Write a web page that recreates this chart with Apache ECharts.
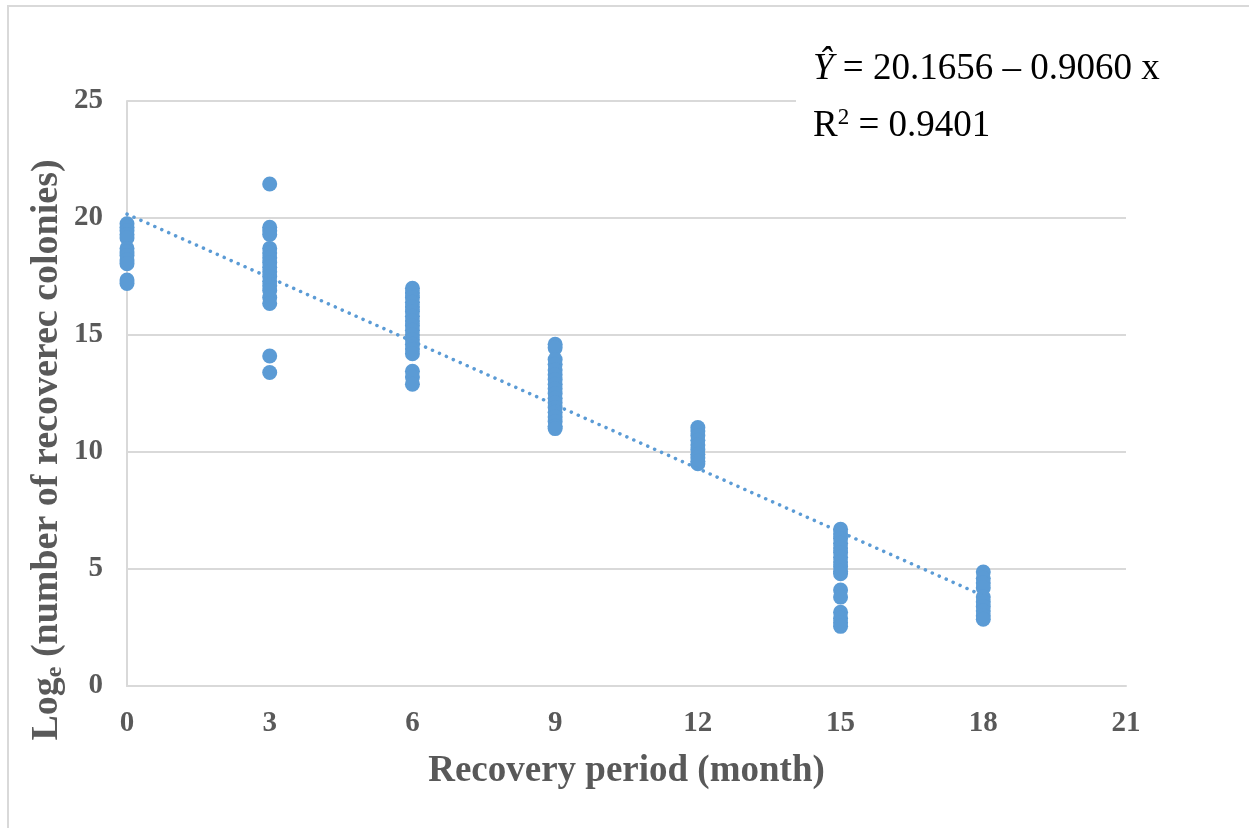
<!DOCTYPE html>
<html>
<head>
<meta charset="utf-8">
<script src="https://cdn.jsdelivr.net/npm/echarts@6/dist/echarts.min.js"></script>
<style>
  html, body { margin: 0; padding: 0; background: #fff; }
  #main { width: 1249px; height: 828px; }
</style>
</head>
<body>
<div id="main"></div>
<script>
// recovery period (months) for each column of points
const months = [0, 3, 6, 9, 12, 15, 18];

// log_e of recovered colonies, one list per month
const logColonies = [
  [19.75, 19.6, 19.45, 19.3, 19.15, 18.7, 18.55, 18.4, 18.2, 18.05, 17.35, 17.2],
  [21.45, 19.6, 19.45, 19.3, 18.7, 18.5, 18.3, 18.1, 17.9, 17.7, 17.5, 17.3, 17.1, 16.9, 16.6, 16.35, 14.1, 13.4],
  [17.0, 16.8, 16.6, 16.4, 16.2, 16.0, 15.8, 15.6, 15.4, 15.2, 15.0, 14.8, 14.6, 14.4, 14.2, 13.45, 13.2, 12.9],
  [14.6, 14.45, 13.95, 13.75, 13.5, 13.3, 13.1, 12.9, 12.7, 12.5, 12.3, 12.1, 11.9, 11.7, 11.5, 11.3, 11.1, 11.0],
  [11.05, 10.9, 10.7, 10.5, 10.3, 10.1, 9.9, 9.75, 9.6, 9.5],
  [6.7, 6.5, 6.3, 6.1, 5.9, 5.7, 5.5, 5.3, 5.1, 4.9, 4.8, 4.1, 3.8, 3.15, 2.9, 2.7, 2.55],
  [4.87, 4.6, 4.4, 4.2, 3.8, 3.6, 3.4, 3.2, 3.0, 2.85]
];

// fitted line: Y = a + b x
const intercept = 20.1656;
const slope = -0.9060;
const rSquared = 0.9401;

const xTicks = [0, 21, 3];   // min, max, interval
const yTicks = [0, 25, 5];

const points = [];
months.forEach((m, i) => {
  logColonies[i].forEach(v => points.push([m, v]));
});
const xFirst = months[0], xLast = months[months.length - 1];
const trend = [[xFirst, intercept + slope * xFirst], [xLast, intercept + slope * xLast]];

const serif = '"Liberation Serif", "Times New Roman", serif';
const grey = '#595959';
const blue = '#5b9bd5';

const chart = echarts.init(document.getElementById('main'));
chart.setOption({
  animation: false,
  backgroundColor: '#fff',
  grid: { left: 127, right: 123, top: 101, bottom: 142 },
  xAxis: {
    type: 'value',
    min: xTicks[0], max: xTicks[1], interval: xTicks[2],
    name: 'Recovery period (month)',
    nameLocation: 'middle',
    nameGap: 67,
    nameTextStyle: { fontFamily: serif, fontSize: 37, fontWeight: 'bold', color: grey },
    axisLine: { show: true, lineStyle: { color: '#d9d9d9', width: 2 } },
    axisTick: { show: false },
    splitLine: { show: false },
    axisLabel: { fontFamily: serif, fontSize: 29, fontWeight: 'bold', color: grey, margin: 23 }
  },
  yAxis: {
    type: 'value',
    min: yTicks[0], max: yTicks[1], interval: yTicks[2],
    axisLine: { show: true, lineStyle: { color: '#d9d9d9', width: 2 } },
    axisTick: { show: false },
    splitLine: { show: true, lineStyle: { color: '#d9d9d9', width: 2 } },
    axisLabel: { fontFamily: serif, fontSize: 29, fontWeight: 'bold', color: grey, margin: 24 }
  },
  series: [
    {
      type: 'scatter',
      data: points,
      symbolSize: 15,
      itemStyle: { color: blue, opacity: 1 },
      z: 3
    },
    {
      type: 'line',
      data: trend,
      symbol: 'none',
      lineStyle: { color: blue, width: 3.5, type: [0.1, 7.5], cap: 'round' },
      z: 4
    }
  ],
  graphic: [
    {
      type: 'rect', z: 0, silent: true,
      shape: { x: 8, y: 6, width: 1260, height: 840 },
      style: { fill: null, stroke: '#d9d9d9', lineWidth: 2 }
    },
    {
      type: 'rect', z: 50, silent: true,
      shape: { x: 796, y: 40, width: 400, height: 120 },
      style: { fill: '#fff' }
    },
    {
      type: 'text', z: 60, x: 813, y: 69,
      style: {
        text: '{i|Ŷ} = ' + intercept.toFixed(4) + ' – ' + Math.abs(slope).toFixed(4) + ' x',
        fontFamily: serif, fontSize: 37, fill: '#000', verticalAlign: 'middle',
        rich: { i: { fontFamily: serif, fontSize: 37, fontStyle: 'italic' } }
      }
    },
    {
      type: 'text', z: 60, x: 813, y: 126,
      style: {
        text: 'R{sup|2} = ' + rSquared.toFixed(4),
        fontFamily: serif, fontSize: 37, fill: '#000', verticalAlign: 'middle',
        rich: { sup: { fontFamily: serif, fontSize: 23, padding: [0, 0, 16, 0] } }
      }
    },
    {
      type: 'text', z: 60, x: 47, y: 450, rotation: Math.PI / 2,
      style: {
        text: 'Log{sub|e} (number of recoverec colonies)',
        fontFamily: serif, fontSize: 38, fontWeight: 'bold', fill: grey,
        align: 'center', verticalAlign: 'middle',
        rich: { sub: { fontFamily: serif, fontSize: 24, fontWeight: 'bold', fill: grey, padding: [16, 0, 0, 0] } }
      }
    }
  ]
});
</script>
</body>
</html>
